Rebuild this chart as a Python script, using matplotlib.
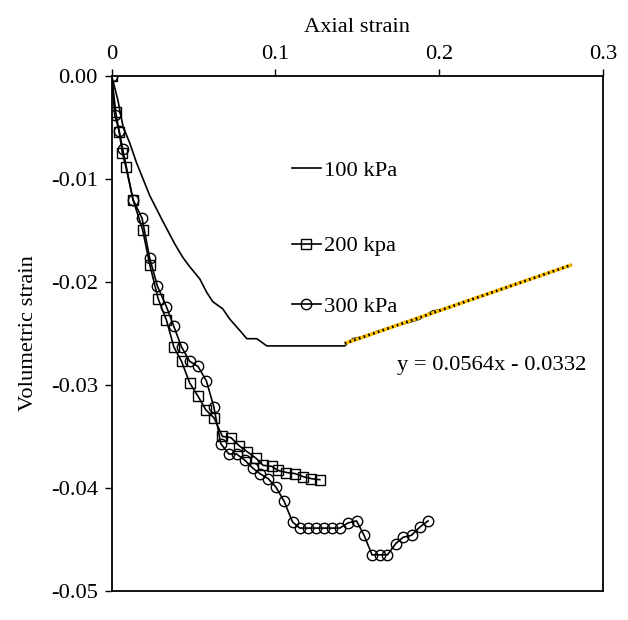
import numpy as np
import matplotlib
matplotlib.use("Agg")
import matplotlib.pyplot as plt
from matplotlib import font_manager as fm

serif_list = ['Liberation Serif', 'Times New Roman', 'Nimbus Roman', 'Tinos', 'DejaVu Serif']
installed = {f.name for f in fm.fontManager.ttflist}
fam = [f for f in serif_list if f in installed] or ['DejaVu Serif']
plt.rcParams['font.family'] = fam

# 100 kPa
x100 = [0, 0.0037, 0.0069, 0.0110, 0.0151, 0.0232, 0.0312, 0.0385, 0.0434, 0.0476,
        0.0538, 0.0580, 0.0617, 0.0678, 0.0721, 0.0782, 0.0825, 0.0886, 0.0947, 0.1423,
        0.1472, 0.1533, 0.1619, 0.1680, 0.1740, 0.1820, 0.1880, 0.1960, 0.2046, 0.2083, 0.2160]
y100 = [0, -0.0023, -0.0049, -0.0065, -0.0084, -0.0116, -0.0141, -0.0163, -0.0176, -0.0185,
        -0.0197, -0.0210, -0.0219, -0.0226, -0.0236, -0.0247, -0.0255, -0.0255, -0.0262, -0.0262,
        -0.0255, -0.0253, -0.0248, -0.0245, -0.0242, -0.0239, -0.0236, -0.0228, -0.0226, -0.0223, -0.0219]

# 200 kPa
x200 = [0, 0.0024, 0.0045, 0.0065, 0.0086, 0.0130, 0.0188, 0.0232, 0.0283, 0.0334,
        0.0379, 0.0426, 0.0476, 0.0527, 0.0574, 0.0625, 0.0676, 0.0727, 0.0778, 0.0829,
        0.0880, 0.0924, 0.0976, 0.1016, 0.1067, 0.1118, 0.1169, 0.1220, 0.1271]
y200 = [0, -0.0035, -0.0054, -0.0075, -0.0088, -0.0120, -0.0149, -0.0183, -0.0216, -0.0237,
        -0.0263, -0.0277, -0.0298, -0.0311, -0.0324, -0.0332, -0.0350, -0.0351, -0.0359, -0.0365,
        -0.0371, -0.0378, -0.0379, -0.0383, -0.0385, -0.0386, -0.0389, -0.0391, -0.0392]

# 300 kPa
x300 = [0, 0.0018, 0.0045, 0.0067, 0.0130, 0.0185, 0.0232, 0.0279, 0.0334, 0.0379,
        0.0426, 0.0476, 0.0527, 0.0578, 0.0623, 0.0666, 0.0715, 0.0762, 0.0812, 0.0863,
        0.0904, 0.0955, 0.1002, 0.1053, 0.1104, 0.1148, 0.1199, 0.1250, 0.1295, 0.1346,
        0.1393, 0.1443, 0.1495, 0.1541, 0.1590, 0.1637, 0.1684, 0.1735, 0.1779, 0.1831,
        0.1882, 0.1932]
y300 = [0, -0.0038, -0.0053, -0.0071, -0.0120, -0.0138, -0.0177, -0.0204, -0.0224, -0.0243,
        -0.0263, -0.0277, -0.0282, -0.0296, -0.0321, -0.0357, -0.0367, -0.0367, -0.0373, -0.0381,
        -0.0386, -0.0391, -0.0399, -0.0413, -0.0433, -0.0439, -0.0439, -0.0439, -0.0439, -0.0439,
        -0.0439, -0.0434, -0.0432, -0.0446, -0.0465, -0.0465, -0.0465, -0.0454, -0.0448, -0.0446,
        -0.0438, -0.0432]

trend_fit_start = 0.1423
trend_end = 0.281
equation_text = "y = 0.0564x - 0.0332"

xticks = [0, 0.1, 0.2, 0.3]
xticklabels = ["0", "0.1", "0.2", "0.3"]
yticks = [0.0, -0.01, -0.02, -0.03, -0.04, -0.05]
yticklabels = ["0.00", "-0.01", "-0.02", "-0.03", "-0.04", "-0.05"]

fs = 16.2 if fam[0] != 'DejaVu Serif' else 13.5
fig = plt.figure(figsize=(6.28, 6.2), dpi=100)
ax = fig.add_axes([0.178, 0.047, 0.782, 0.830])

l1, = ax.plot(x100, y100, color='black', lw=1.2, label='100 kPa', zorder=3)
l2, = ax.plot(x200, y200, color='black', lw=1.2, marker='s', ms=7, mfc='none', mec='black',
              mew=1.0, label='200 kpa', zorder=4)
l3, = ax.plot(x300, y300, color='black', lw=1.2, marker='o', ms=7.5, mfc='none', mec='black',
              mew=1.0, label='300 kPa', zorder=4)

# linear trendline fit over the rising part of the 100 kPa curve
xa = np.array(x100)
ya = np.array(y100)
sel = xa >= trend_fit_start
k, b = np.polyfit(xa[sel], ya[sel], 1)
tx = np.array([trend_fit_start, trend_end])
ty = k * tx + b
ax.plot(tx, ty, color='#FFC000', lw=2.6, solid_capstyle='butt', zorder=5)
ax.plot(tx, ty, color='black', lw=2.0, linestyle=(0, (0.6, 1.2)), zorder=6)

ax.text(0.174, -0.0281, equation_text, fontsize=fs, ha='left', va='center')

ax.set_xlim(0, 0.3)
ax.set_ylim(-0.05, 0)
ax.xaxis.tick_top()
ax.xaxis.set_label_position('top')
ax.set_xticks(xticks)
ax.set_xticklabels(xticklabels)
ax.set_yticks(yticks)
ax.set_yticklabels(yticklabels)
ax.tick_params(axis='both', labelsize=fs, direction='out', length=5, width=1.0)
ax.tick_params(axis='y', pad=5)
ax.tick_params(axis='x', pad=4)
ax.set_xlabel('Axial strain', fontsize=fs, labelpad=9)
ax.set_ylabel('Volumetric strain', fontsize=fs, labelpad=9)
for s in ax.spines.values():
    s.set_linewidth(1.3)

# legend entries placed individually (Excel-like uneven spacing)
leg_y = [0.8175, 0.670, 0.553]
for h, yy in zip([l1, l2, l3], leg_y):
    lg = ax.legend([h], [h.get_label()], loc='center left', bbox_to_anchor=(0.3666, yy),
                   frameon=False, fontsize=fs, handlelength=1.3, handletextpad=0.13,
                   borderpad=0, borderaxespad=0)
    ax.add_artist(lg)
ax.legend_ = None

fig.savefig('out.png', dpi=100)
